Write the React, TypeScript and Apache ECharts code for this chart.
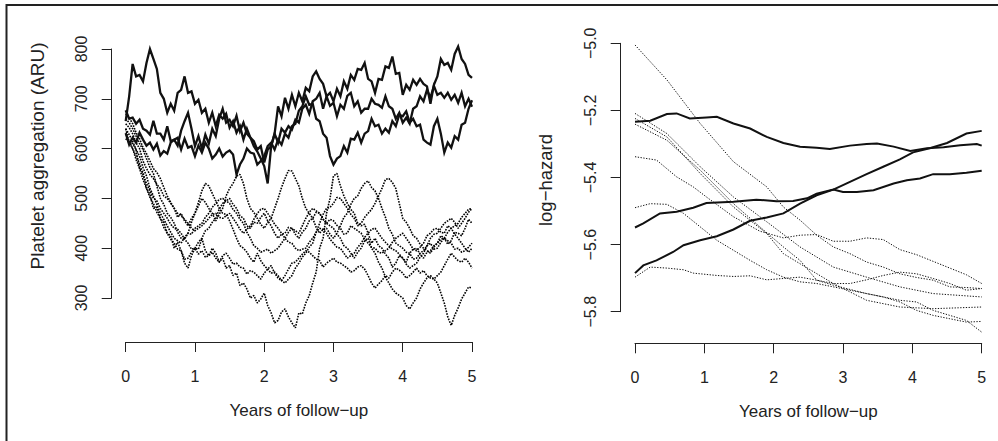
import React, { useEffect, useRef } from "react";
import * as echarts from "echarts";

const W = 998;
const H = 441;
const FONT = "'Liberation Sans', Arial, Helvetica, sans-serif";
const INK = "#222";

const xTicks = [0, 1, 2, 3, 4, 5];
const arrYTicks = [300, 400, 500, 600, 700, 800];
const hazYTicks = [-5.8, -5.6, -5.4, -5.2, -5.0];

// ---- left panel: platelet aggregation (ARU), one value every 0.05 yr
const aruSolid1 = [655,705,770,745,748,735,772,800,780,760,
 712,700,672,690,676,712,718,745,712,715,
 690,698,672,680,652,672,645,668,660,670,
 642,655,632,645,618,640,622,615,598,605,
 572,598,605,630,612,640,632,645,638,658,
 652,680,688,670,695,700,712,680,705,686,
 692,665,688,680,706,712,685,695,672,680,
 680,700,690,688,682,705,685,680,660,672,
 652,662,650,680,685,705,695,718,702,726,
 708,712,702,712,698,708,692,712,685,700,
 684];
const aruSolid2 = [677,660,662,650,658,640,636,628,656,630,
 630,618,645,615,618,606,636,655,672,640,
 605,625,600,628,610,640,625,660,680,652,
 658,645,666,635,652,630,622,605,594,580,
 565,530,605,630,685,665,702,680,708,685,
 712,695,722,715,745,755,740,730,705,712,
 695,720,705,735,720,748,738,760,758,772,
 740,735,712,740,738,765,762,785,750,752,
 708,728,718,738,728,740,730,725,690,728,
 745,780,768,772,758,790,805,780,770,748,
 742];
const aruSolid3 = [631,608,622,612,632,618,606,612,598,610,
 586,595,590,612,618,622,598,620,602,605,
 585,606,592,612,600,580,588,600,584,592,
 596,588,548,568,580,600,592,590,568,575,
 585,605,612,598,618,608,630,622,645,650,
 676,685,705,688,690,660,655,630,622,585,
 568,580,585,605,592,620,618,632,612,630,
 635,660,645,648,630,640,632,655,645,668,
 665,675,652,660,645,648,618,612,608,645,
 660,630,592,612,602,625,618,648,652,680,
 697];

const aruDot1 = [640,612,610,598,560,552,520,508,480,482,
 460,452,430,425,400,412,395,370,360,385,
 400,398,420,395,385,400,390,372,380,360,
 365,345,350,325,330,318,300,305,290,298,
 310,285,270,250,255,272,278,262,250,240,
 270,268,290,305,330,352,400,420,470,500,
 545,550,525,505,490,478,470,450,445,448,
 430,410,420,405,400,388,380,362,370,385,
 380,372,390,398,400,388,380,392,395,405,
 410,425,420,408,415,432,430,425,440,458,
 450];
const aruDot2 = [650,642,630,612,600,575,560,548,540,528,
 520,505,500,490,480,462,470,455,445,460,
 470,485,500,492,480,470,455,468,480,505,
 520,530,545,548,530,500,480,472,460,448,
 440,452,460,480,500,522,540,556,555,540,
 525,500,480,470,460,442,430,438,440,428,
 420,430,445,462,470,488,500,505,520,530,
 535,522,515,500,480,462,440,428,410,405,
 400,392,390,378,380,390,395,405,410,398,
 400,412,420,415,410,398,400,392,395,402,
 410];
const aruDot3 = [660,652,640,625,610,598,580,562,550,525,
 500,488,470,462,450,432,420,418,430,452,
 470,492,515,530,525,510,495,480,470,468,
 455,438,420,405,400,392,380,372,390,375,
 365,358,350,352,345,335,330,338,345,360,
 370,382,390,402,410,432,450,468,480,482,
 490,502,500,490,480,468,460,445,450,462,
 470,478,490,505,520,538,540,532,520,490,
 460,452,440,425,420,408,400,395,390,402,
 410,418,420,432,440,445,450,462,470,478,
 480];
const aruDot4 = [620,612,600,585,570,548,530,515,500,495,
 480,470,460,448,440,438,430,418,410,398,
 400,412,420,435,440,452,460,478,490,495,
 500,488,480,465,460,445,440,452,450,462,
 470,455,445,430,420,428,430,442,440,428,
 420,432,440,455,460,472,470,458,450,445,
 440,428,420,405,400,390,380,392,400,415,
 420,400,390,372,360,342,330,318,310,305,
 300,285,278,290,300,318,330,340,345,338,
 330,310,290,262,245,265,280,298,310,322,
 320];
const aruDot5 = [640,628,615,598,585,562,545,520,505,488,
 470,458,445,432,420,415,410,422,430,428,
 440,445,450,462,470,482,490,498,500,495,
 490,478,470,458,450,432,420,405,400,392,
 395,398,390,395,400,410,420,432,440,435,
 430,445,460,472,480,475,470,458,450,458,
 455,446,440,428,430,445,440,435,430,418,
 410,402,400,392,390,395,400,412,420,425,
 430,420,410,398,395,402,410,425,430,438,
 440,432,430,445,440,428,420,410,400,392,
 400];
const aruDot6 = [630,615,600,578,560,538,520,502,490,472,
 460,442,430,418,410,398,395,378,380,392,
 400,388,395,382,385,392,380,372,385,390,
 380,368,370,362,360,348,355,352,345,338,
 350,358,365,350,340,335,345,358,370,372,
 380,388,395,392,385,378,375,362,370,375,
 380,372,370,365,360,352,355,362,365,358,
 345,330,320,328,335,345,340,352,360,356,
 350,340,345,352,360,350,355,345,340,338,
 345,352,365,378,390,382,375,372,380,372,
 360];
const aruDot7 = [670,662,650,632,620,602,590,575,560,552,
 540,522,505,492,480,470,465,458,450,440,
 435,440,445,452,460,468,470,462,460,465,
 470,460,450,438,430,438,445,458,470,478,
 480,470,460,448,440,430,420,412,410,400,
 395,398,400,412,420,432,440,438,430,418,
 410,402,400,390,380,385,390,402,410,422,
 430,438,440,430,420,412,405,398,395,388,
 380,368,360,365,370,382,390,405,420,428,
 430,440,450,455,460,452,440,450,460,472,
 480];

// ---- right panel: log-hazard, [years, value]
const hazSolid1: [number, number][] = [[0,-5.234],[0.22,-5.231],[0.46,-5.211],[0.6,-5.209],[0.79,-5.224],[1.03,-5.221],[1.18,-5.219],[1.42,-5.239],[1.66,-5.254],[1.9,-5.279],[2.14,-5.297],[2.38,-5.308],[2.62,-5.311],[2.81,-5.315],[3.1,-5.305],[3.34,-5.3],[3.49,-5.299],[3.73,-5.308],[3.97,-5.321],[4.21,-5.313],[4.45,-5.31],[4.69,-5.304],[4.93,-5.3],[5,-5.305]];
const hazSolid2: [number, number][] = [[0,-5.549],[0.12,-5.537],[0.36,-5.507],[0.6,-5.502],[0.84,-5.49],[1.03,-5.476],[1.42,-5.472],[1.75,-5.466],[2.04,-5.471],[2.28,-5.47],[2.48,-5.462],[2.62,-5.448],[2.86,-5.436],[3.0,-5.443],[3.2,-5.443],[3.44,-5.438],[3.73,-5.418],[3.92,-5.408],[4.11,-5.403],[4.3,-5.39],[4.54,-5.39],[4.78,-5.386],[5,-5.38]];
const hazSolid3: [number, number][] = [[0,-5.685],[0.12,-5.662],[0.31,-5.647],[0.55,-5.622],[0.7,-5.602],[0.94,-5.587],[1.18,-5.575],[1.42,-5.555],[1.66,-5.529],[1.9,-5.519],[2.14,-5.507],[2.38,-5.478],[2.62,-5.453],[2.86,-5.436],[3.1,-5.413],[3.34,-5.39],[3.58,-5.368],[3.82,-5.346],[4.01,-5.325],[4.25,-5.313],[4.5,-5.297],[4.78,-5.269],[5,-5.261]];

const hazDot1: [number, number][] = [[0,-5.005],[0.46,-5.109],[0.94,-5.239],[1.42,-5.353],[1.9,-5.428],[2.14,-5.488],[2.38,-5.527],[2.62,-5.572],[2.86,-5.607],[3.1,-5.627],[3.34,-5.652],[3.58,-5.667],[3.82,-5.687],[4.06,-5.698],[4.3,-5.706],[4.54,-5.726],[4.78,-5.728],[5,-5.731]];
const hazDot2: [number, number][] = [[0,-5.338],[0.31,-5.348],[0.6,-5.398],[0.84,-5.428],[1.03,-5.458],[1.42,-5.517],[1.8,-5.56],[2.14,-5.58],[2.38,-5.572],[2.62,-5.57],[2.86,-5.59],[3.1,-5.59],[3.34,-5.58],[3.58,-5.585],[3.82,-5.615],[4.06,-5.63],[4.3,-5.65],[4.54,-5.67],[4.78,-5.69],[5,-5.716]];
const hazDot3: [number, number][] = [[0,-5.209],[0.46,-5.269],[0.94,-5.368],[1.42,-5.458],[1.9,-5.532],[2.38,-5.607],[2.86,-5.667],[3.34,-5.697],[3.82,-5.726],[4.3,-5.746],[5,-5.756]];
const hazDot4: [number, number][] = [[0,-5.224],[0.46,-5.279],[0.94,-5.388],[1.42,-5.488],[1.9,-5.567],[2.14,-5.627],[2.38,-5.657],[2.86,-5.716],[3.34,-5.766],[3.82,-5.786],[4.3,-5.791],[5,-5.786]];
const hazDot5: [number, number][] = [[0,-5.241],[0.46,-5.289],[0.94,-5.378],[1.42,-5.478],[1.8,-5.547],[2.14,-5.607],[2.38,-5.647],[2.62,-5.706],[2.86,-5.721],[3.34,-5.746],[3.82,-5.766],[4.06,-5.771],[4.3,-5.796],[4.78,-5.826],[5,-5.861]];
const hazDot6: [number, number][] = [[0,-5.49],[0.22,-5.478],[0.46,-5.48],[0.7,-5.507],[0.94,-5.547],[1.18,-5.587],[1.42,-5.617],[1.66,-5.647],[1.9,-5.675],[2.14,-5.697],[2.38,-5.711],[2.62,-5.716],[2.86,-5.726],[3.1,-5.736],[3.34,-5.746],[3.58,-5.756],[3.82,-5.771],[4.06,-5.796],[4.3,-5.811],[4.54,-5.821],[4.78,-5.831],[5,-5.829]];
const hazDot7: [number, number][] = [[0,-5.697],[0.22,-5.667],[0.46,-5.67],[0.7,-5.675],[0.84,-5.685],[1.18,-5.692],[1.42,-5.695],[1.66,-5.693],[1.9,-5.705],[2.14,-5.701],[2.38,-5.697],[2.62,-5.706],[2.86,-5.716],[3.1,-5.716],[3.34,-5.705],[3.58,-5.692],[3.82,-5.682],[4.06,-5.687],[4.3,-5.701],[4.54,-5.716],[4.78,-5.736],[5,-5.731]];

const STEP = 0.05;
const withYears = (vals: number[]) => vals.map((v, i) => [+(i * STEP).toFixed(2), v]);
const minus = (s: string) => s.replace("-", "\u2212");

function axisCommon() {
  return {
    axisLine: { show: true, onZero: false, lineStyle: { color: INK, width: 1 } },
    axisTick: { show: true, inside: false, length: 10, lineStyle: { color: INK, width: 1 } },
    splitLine: { show: false },
  };
}

function xAxis(gridIndex: number, offset: number) {
  return {
    ...axisCommon(),
    gridIndex,
    type: "value",
    min: xTicks[0],
    max: xTicks[xTicks.length - 1],
    interval: 1,
    offset,
    position: "bottom",
    axisLabel: { fontSize: 16, color: INK, fontFamily: FONT, margin: 26, showMinLabel: true, showMaxLabel: true },
    name: "Years of follow\u2212up",
    nameLocation: "middle",
    nameGap: 60,
    nameTextStyle: { fontSize: 17, color: INK, fontFamily: FONT },
  };
}

function yAxis(gridIndex: number, ticks: number[], offset: number, fmt: (v: number) => string) {
  return {
    ...axisCommon(),
    gridIndex,
    type: "value",
    min: ticks[0],
    max: ticks[ticks.length - 1],
    interval: +(ticks[1] - ticks[0]).toFixed(2),
    offset,
    position: "left",
    axisLabel: { rotate: 90, fontSize: 16, color: INK, fontFamily: FONT, margin: 22, formatter: fmt, showMinLabel: true, showMaxLabel: true },
  };
}

function solid(data: number[][], xi: number, w = 2.3) {
  return { type: "line", xAxisIndex: xi, yAxisIndex: xi, data, showSymbol: false, clip: false, silent: true,
    lineStyle: { color: "#111", width: w, type: "solid", join: "miter" } };
}
function dotted(data: number[][], xi: number, w = 1.2, dash = [1.3, 1.5], color = "#111") {
  return { type: "line", xAxisIndex: xi, yAxisIndex: xi, data, showSymbol: false, clip: false, silent: true,
    lineStyle: { color, width: w, type: dash } };
}

export default function App() {
  const ref = useRef<HTMLDivElement>(null);
  useEffect(() => {
    const chart = echarts.init(ref.current!, null, { renderer: "svg", width: W, height: H });
    const dotL = (vals: number[]) => dotted(withYears(vals), 0, 1.6, [1.6, 1.2], "#000");
    chart.setOption({
      animation: false,
      backgroundColor: "#fff",
      grid: [
        { left: 125.7, top: 49, width: 346.3, height: 249 },
        { left: 635, top: 43.3, width: 346.7, height: 268.4 },
      ],
      xAxis: [xAxis(0, 44), xAxis(1, 31.6)],
      yAxis: [
        yAxis(0, arrYTicks, 14, (v: number) => String(Math.round(v))),
        yAxis(1, hazYTicks, 14.3, (v: number) => minus(v.toFixed(1))),
      ],
      graphic: [
        { type: "rect", shape: { x: 6.5, y: 5, width: 1200, height: 800 }, style: { fill: "none", stroke: INK, lineWidth: 2 } },
        { type: "text", x: 37, y: 156, rotation: Math.PI / 2,
          style: { text: "Platelet aggregation (ARU)", fontSize: 19, fontFamily: FONT, fill: INK, align: "center", verticalAlign: "middle" } },
        { type: "text", x: 545, y: 180, rotation: Math.PI / 2,
          style: { text: "log\u2212hazard", fontSize: 18.5, fontFamily: FONT, fill: INK, align: "center", verticalAlign: "middle" } },
      ],
      series: [
        dotL(aruDot1),
        dotL(aruDot2),
        dotL(aruDot3),
        dotL(aruDot4),
        dotL(aruDot5),
        dotL(aruDot6),
        dotL(aruDot7),
        solid(withYears(aruSolid1), 0),
        solid(withYears(aruSolid2), 0),
        solid(withYears(aruSolid3), 0),
        dotted(hazDot1, 1, 1),
        dotted(hazDot2, 1, 1),
        dotted(hazDot3, 1, 1),
        dotted(hazDot4, 1, 1),
        dotted(hazDot5, 1, 1),
        dotted(hazDot6, 1, 1),
        dotted(hazDot7, 1, 1),
        solid(hazSolid1, 1, 2),
        solid(hazSolid2, 1, 2),
        solid(hazSolid3, 1, 2),
      ],
    });
    return () => chart.dispose();
  }, []);
  return <div ref={ref} style={{ position: "fixed", left: 0, top: 0, width: W, height: H, background: "#fff" }} />;
}
